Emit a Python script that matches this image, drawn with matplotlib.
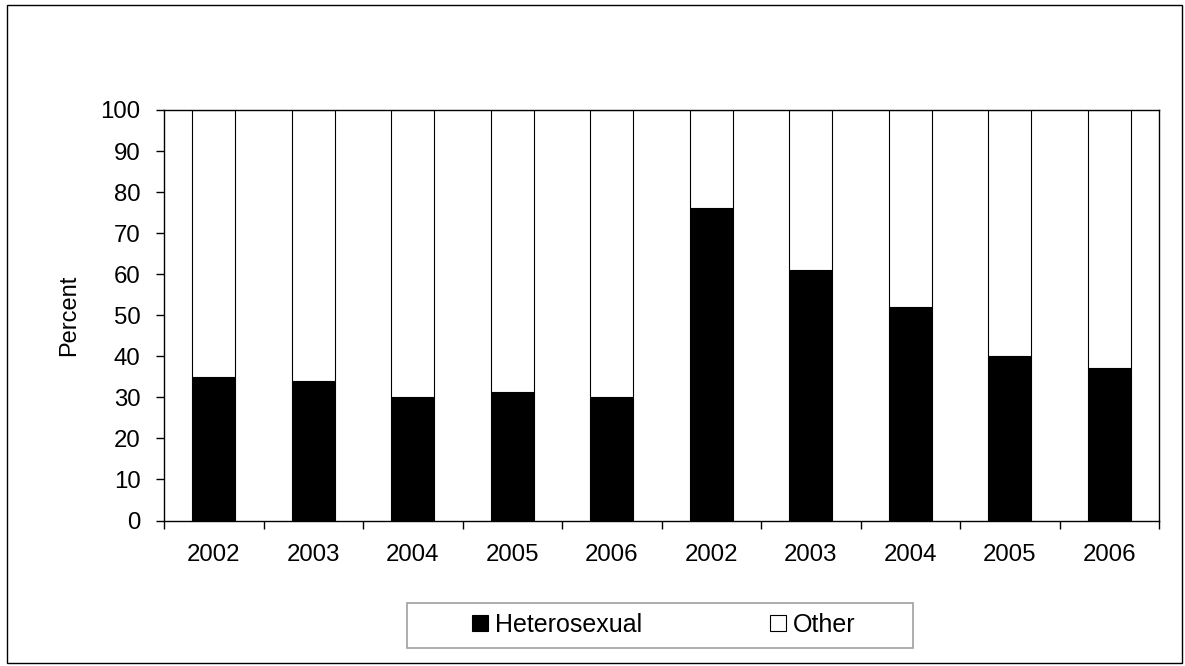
import matplotlib
matplotlib.use("Agg")
import matplotlib.pyplot as plt
from matplotlib.patches import Rectangle, Patch

plt.rcParams['font.family'] = ['Liberation Sans', 'DejaVu Sans']

# Year labels for the two groups of bars
years = ['2002', '2003', '2004', '2005', '2006',
         '2002', '2003', '2004', '2005', '2006']
# Percent heterosexual and other in each year
heterosexual = [35.0, 34.0, 30.0, 31.2, 30.0, 76.2, 61.0, 52.0, 40.0, 37.2]
other = [65.0, 66.0, 70.0, 68.8, 70.0, 23.8, 39.0, 48.0, 60.0, 62.8]
series_names = ['Heterosexual', 'Other']
y_ticks = [0, 10, 20, 30, 40, 50, 60, 70, 80, 90, 100]

W, H = 1185, 666
fig = plt.figure(figsize=(W / 100, H / 100), dpi=100)
fig.patch.set_facecolor('white')

# Outer chart frame
fig.add_artist(Rectangle((7 / W, 1 - 663 / H), (1182 - 7) / W, (663 - 5) / H,
                         transform=fig.transFigure, fill=False,
                         edgecolor='black', linewidth=1.0))

left, right, bottom, top = 164 / W, 1159 / W, 1 - 520.5 / H, 1 - 110 / H
ax = fig.add_axes([left, bottom, right - left, top - bottom])

x = list(range(len(years)))
bw = 0.43
ax.bar(x, heterosexual, width=bw, color='black', edgecolor='black',
       linewidth=0.8, label=series_names[0])
ax.bar(x, other, width=bw, bottom=heterosexual, color='white',
       edgecolor='black', linewidth=0.8, label=series_names[1])

ax.set_xlim(-0.5, len(years) - 0.5)
ax.set_ylim(0, 100)

for s in ax.spines.values():
    s.set_linewidth(1.0)
    s.set_color('black')

# Ticks at category boundaries, labels at category centres
ax.set_xticks([i - 0.5 for i in range(len(years) + 1)])
ax.set_xticklabels([])
ax.set_xticks(x, minor=True)
ax.set_xticklabels(years, minor=True, fontsize=17.3)
ax.tick_params(axis='x', which='major', direction='out', length=6, width=1.0)
ax.tick_params(axis='x', which='minor', length=0, pad=17)

ax.set_yticks(y_ticks)
ax.set_yticklabels([str(v) for v in y_ticks], fontsize=17.3)
ax.tick_params(axis='y', direction='out', length=6, width=1.0, pad=11)

ax.set_ylabel('Percent', fontsize=17)
ax.yaxis.set_label_coords(-0.0845, 0.5)

# Legend at the bottom, with a grey frame
handles = [Patch(facecolor='black', edgecolor='black', linewidth=0.8),
           Patch(facecolor='white', edgecolor='black', linewidth=0.8)]
fig.legend(handles, series_names, ncol=2, loc='center',
           bbox_to_anchor=(664 / W, 1 - 625 / H), frameon=False,
           fontsize=18, handlelength=0.64, handleheight=0.64,
           handletextpad=0.28, columnspacing=5.1, borderpad=0)
fig.add_artist(Rectangle((407 / W, 1 - 648 / H), (913 - 407) / W, (648 - 603) / H,
                         transform=fig.transFigure, fill=False,
                         edgecolor='#a0a0a0', linewidth=1.2))

fig.savefig('out.png', dpi=100)
